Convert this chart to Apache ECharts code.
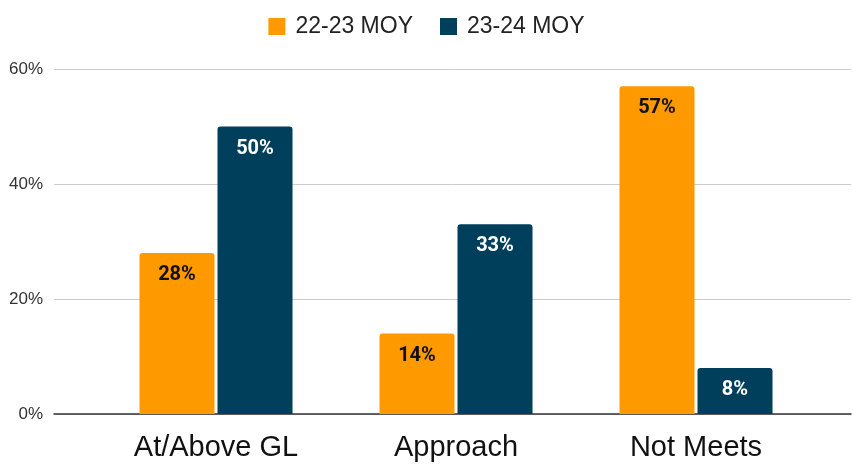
<!DOCTYPE html>
<html>
<head>
<meta charset="utf-8">
<script src="https://cdn.jsdelivr.net/npm/echarts@6/dist/echarts.min.js"></script>
<style>
  html, body { margin: 0; padding: 0; background: #fff; }
  #chart { width: 853px; height: 464px; }
</style>
</head>
<body>
<div id="chart"></div>
<script>
// data
const categories = ["At/Above GL", "Approach", "Not Meets"];
const seriesNames = ["22-23 MOY", "23-24 MOY"];
const moy2223 = [28, 14, 57];
const moy2324 = [50, 33, 8];
const yTicks = [0, 20, 40, 60];

const colors = ["#ff9900", "#003f5c"];
const font = "Liberation Sans, Arial, sans-serif";

const chart = echarts.init(document.getElementById("chart"));

const barLabel = (color) => ({
  show: true,
  position: "insideTop",
  distance: 12,
  formatter: "{c}%",
  color: color,
  fontSize: 20,
  fontWeight: "bold",
  fontFamily: "Roboto, " + font,
});

chart.setOption({
  animation: false,
  legend: {
    top: 10,
    left: "center",
    itemWidth: 17,
    itemHeight: 17,
    itemGap: 27,
    icon: "rect",
    textStyle: { fontSize: 23, color: "#222", fontFamily: font, padding: [0, 0, 0, 5] },
    data: seriesNames,
  },
  // grid 0 carries the gridlines and y labels, grid 1 the bars
  grid: [
    { left: 54, right: 2, top: 69, bottom: 50 },
    { left: 96, right: 37, top: 69, bottom: 50 },
  ],
  xAxis: [
    {
      gridIndex: 0, type: "value", min: 0, max: 1,
      axisLine: { show: true, onZero: false, lineStyle: { color: "#333", width: 1.5 } },
      axisTick: { show: false }, axisLabel: { show: false }, splitLine: { show: false },
    },
    {
      gridIndex: 1, type: "category", data: categories,
      axisLine: { show: false }, axisTick: { show: false },
      axisLabel: { fontSize: 29, color: "#111", fontFamily: font, margin: 19 },
    },
  ],
  yAxis: [
    {
      gridIndex: 0, type: "value", min: yTicks[0], max: yTicks[yTicks.length - 1], interval: 20,
      axisLine: { show: false }, axisTick: { show: false },
      axisLabel: { formatter: "{value}%", fontSize: 17, color: "#333", fontFamily: font, margin: 11 },
      splitLine: { lineStyle: { color: "#cccccc", width: 1 } },
    },
    {
      gridIndex: 1, type: "value", min: yTicks[0], max: yTicks[yTicks.length - 1],
      show: false, splitLine: { show: false },
    },
  ],
  series: [
    {
      name: seriesNames[0], type: "bar", xAxisIndex: 1, yAxisIndex: 1,
      data: moy2223, barWidth: 75, barGap: "4%",
      itemStyle: { color: colors[0], borderRadius: [3, 3, 0, 0] },
      label: barLabel("#111"),
    },
    {
      name: seriesNames[1], type: "bar", xAxisIndex: 1, yAxisIndex: 1,
      data: moy2324, barWidth: 75, barGap: "4%",
      itemStyle: { color: colors[1], borderRadius: [3, 3, 0, 0] },
      label: barLabel("#ffffff"),
    },
  ],
});
</script>
</body>
</html>
